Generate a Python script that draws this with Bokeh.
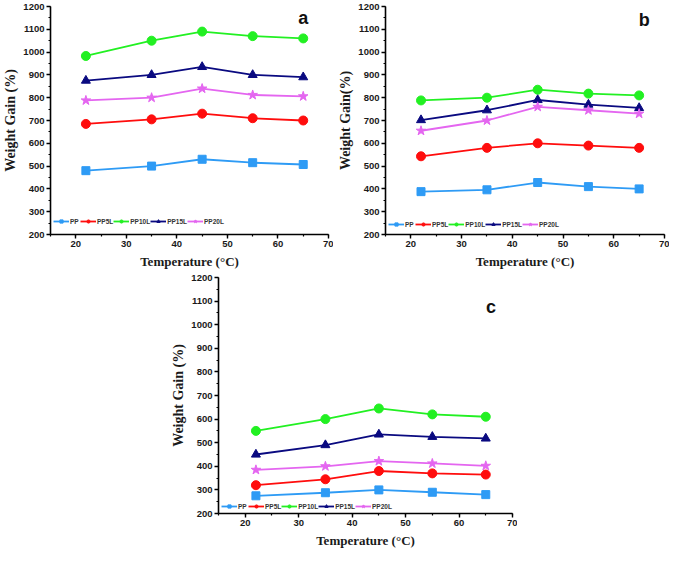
from bokeh.plotting import figure
from bokeh.layouts import column, row
from bokeh.models import Range1d, SingleIntervalTicker, Label, Spacer
from bokeh.embed import file_html
from bokeh.resources import INLINE

temps = [22, 35, 45, 55, 65]
series_names = ["PP", "PP5L", "PP10L", "PP15L", "PP20L"]

a_PP = [480, 500, 530, 515, 507]
a_PP5L = [685, 705, 730, 710, 700]
a_PP10L = [983, 1050, 1090, 1070, 1060]
a_PP15L = [875, 900, 935, 900, 890]
a_PP20L = [788, 800, 840, 812, 806]

b_PP = [388, 396, 428, 410, 400]
b_PP5L = [543, 580, 600, 590, 580]
b_PP10L = [788, 800, 835, 818, 810]
b_PP15L = [702, 745, 790, 770, 755]
b_PP20L = [655, 700, 760, 745, 730]

c_PP = [275, 288, 300, 290, 280]
c_PP5L = [320, 345, 380, 370, 365]
c_PP10L = [550, 600, 645, 620, 610]
c_PP15L = [450, 490, 535, 525, 518]
c_PP20L = [385, 400, 422, 412, 402]

colors = ["#2E9BF5", "#FF0D0D", "#22F022", "#0A0A80", "#E466F0"]
markers = ["square", "circle", "circle", "triangle", "star"]
msizes = [8, 9, 9, 9, 10]


def make_panel(data, letter, ylabel, width, height, borders, letter_pos, legend_y):
    p = figure(width=width, height=height, output_backend="svg", toolbar_location=None,
               x_range=Range1d(15, 70), y_range=Range1d(200, 1200),
               min_border_left=borders[0], min_border_right=borders[1],
               min_border_top=borders[2], min_border_bottom=borders[3])
    p.outline_line_color = None
    p.xgrid.grid_line_color = None
    p.ygrid.grid_line_color = None
    p.background_fill_color = "white"
    p.border_fill_color = "white"
    p.xaxis.ticker = SingleIntervalTicker(interval=10, num_minor_ticks=2)
    p.yaxis.ticker = SingleIntervalTicker(interval=100, num_minor_ticks=2)
    for ax in (p.xaxis[0], p.yaxis[0]):
        ax.axis_line_width = 1.6
        ax.axis_line_color = "black"
        ax.major_tick_line_width = 1.4
        ax.minor_tick_line_width = 1.2
        ax.major_tick_in = 0
        ax.major_tick_out = 4
        ax.minor_tick_in = 0
        ax.minor_tick_out = 2
        ax.major_label_text_font = "Liberation Sans"
        ax.major_label_text_font_style = "bold"
        ax.major_label_text_font_size = "9.5px"
        ax.major_label_text_color = "#1a1a1a"
        ax.axis_label_text_font = "Liberation Serif"
        ax.axis_label_text_font_style = "bold"
        ax.axis_label_text_font_size = "14px"
        ax.axis_label_text_color = "#1a1a1a"
        ax.major_label_standoff = 2
        ax.axis_label_standoff = 2
    p.xaxis.axis_label_text_font_size = "13px"
    p.xaxis.axis_label_standoff = 4
    p.xaxis.axis_label = "Temperature (°C)"
    p.yaxis.axis_label = ylabel

    for name, vals, col, mk, ms in zip(series_names, data, colors, markers, msizes):
        p.line(temps, vals, line_color=col, line_width=1.8, legend_label=name)
        p.scatter(temps, vals, marker=mk, size=ms, fill_color=col, line_color=col,
                  legend_label=name)

    lg = p.legend[0]
    lg.orientation = "horizontal"
    lg.location = (3, legend_y)
    lg.label_text_font = "Liberation Sans"
    lg.label_text_font_style = "bold"
    lg.label_text_font_size = "6.5px"
    lg.label_text_color = "#333333"
    lg.glyph_width = 16
    lg.glyph_height = 8
    lg.label_standoff = 1
    lg.spacing = 0
    lg.padding = 0
    lg.margin = 0
    lg.background_fill_alpha = 0
    lg.border_line_alpha = 0
    lg.label_height = 8
    lg.label_width = 10

    p.add_layout(Label(x=letter_pos[0], y=letter_pos[1], text=letter,
                       text_font="Liberation Sans", text_font_style="bold",
                       text_font_size="18px", text_align="center",
                       text_baseline="middle", text_color="#111111"))
    return p


pa = make_panel([a_PP, a_PP5L, a_PP10L, a_PP15L, a_PP20L], "a", "Weight Gain (%)",
                333, 271, (38, 5, 6, 34), (65, 1150), 9)
pb = make_panel([b_PP, b_PP5L, b_PP10L, b_PP15L, b_PP20L], "b", "Weight Gain(%)",
                336, 271, (52, 5, 6, 34), (66, 1140), 6)
pc = make_panel([c_PP, c_PP5L, c_PP10L, c_PP15L, c_PP20L], "c", "Weight Gain (%)",
                349, 279, (38, 5, 6, 34), (66, 1075), 3)

layout = column(row(pa, pb), row(Spacer(width=168), pc))

with open("out.html", "w") as f:
    f.write(file_html(layout, INLINE))
